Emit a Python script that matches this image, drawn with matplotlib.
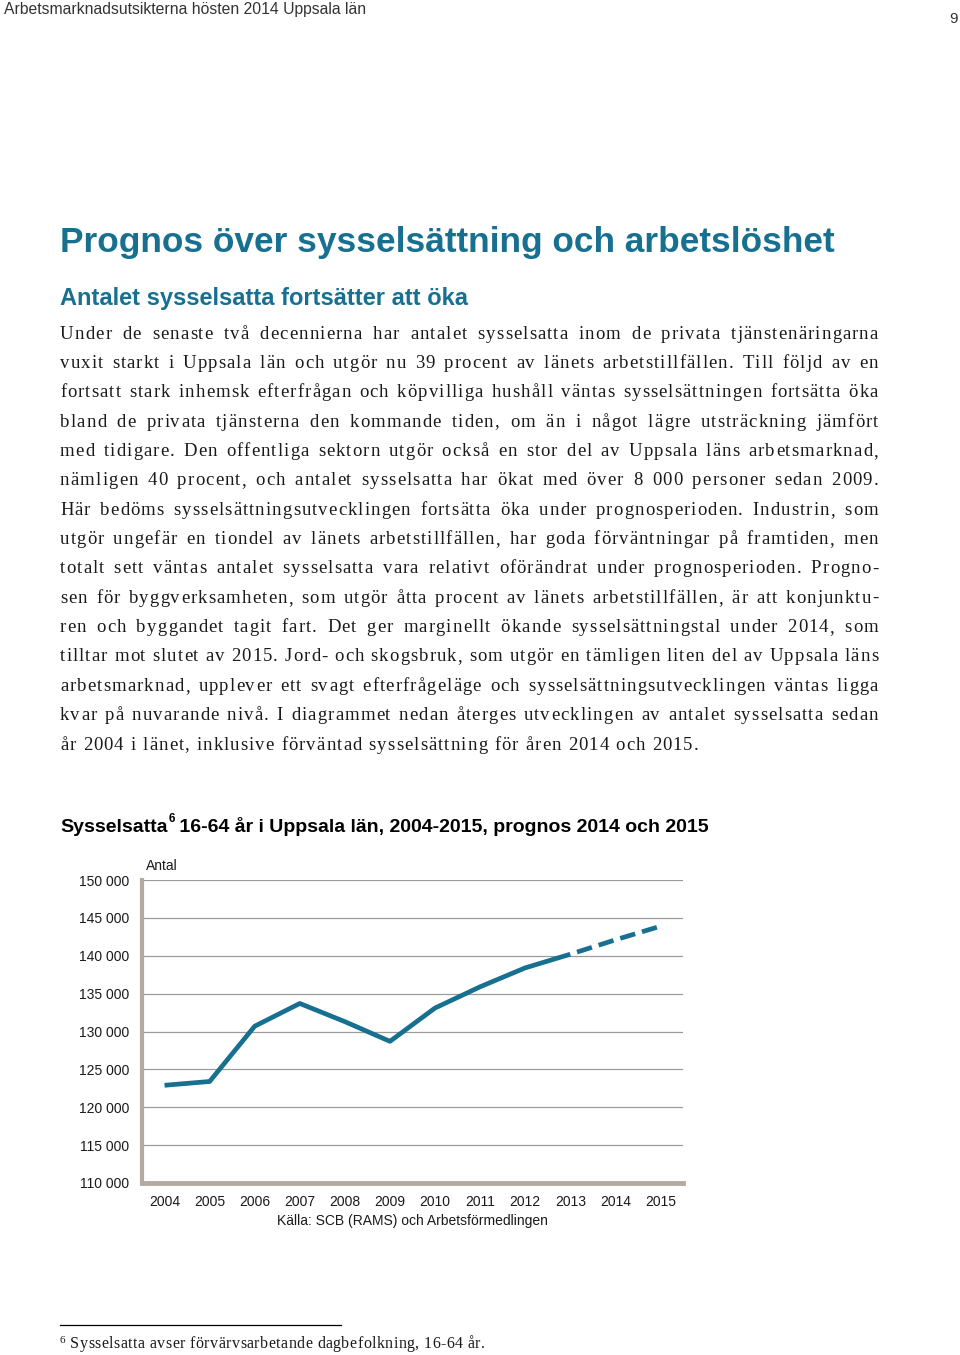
import matplotlib
matplotlib.use('Agg')
import matplotlib.pyplot as plt
from matplotlib.font_manager import FontProperties

W, H = 960, 1355
teal = '#17708f'

# chart data
years = ['2004', '2005', '2006', '2007', '2008', '2009',
         '2010', '2011', '2012', '2013', '2014', '2015']
employed = [122900, 123400, 130700, 133700, 131300, 128700,
            133100, 135900, 138400, 140200, 142100, 143900]
last_actual = '2013'   # dashed after this (prognos)
y_ticks = [110000, 115000, 120000, 125000, 130000, 135000, 140000, 145000, 150000]
y_labels = ['110 000', '115 000', '120 000', '125 000', '130 000',
            '135 000', '140 000', '145 000', '150 000']

header = 'Arbetsmarknadsutsikterna hösten 2014 Uppsala län'
page_no = '9'
title = 'Prognos över sysselsättning och arbetslöshet'
subtitle = 'Antalet sysselsatta fortsätter att öka'
chart_title_a = 'Sysselsatta'
chart_title_b = ' 16-64 år i Uppsala län, 2004-2015, prognos 2014 och 2015'
source = 'Källa: SCB (RAMS) och Arbetsförmedlingen'
footnote = 'Sysselsatta avser förvärvsarbetande dagbefolkning, 16-64 år.'

body_lines = [
    'Under de senaste två decennierna har antalet sysselsatta inom de privata tjänstenäringarna',
    'vuxit starkt i Uppsala län och utgör nu 39 procent av länets arbetstillfällen. Till följd av en',
    'fortsatt stark inhemsk efterfrågan och köpvilliga hushåll väntas sysselsättningen fortsätta öka',
    'bland de privata tjänsterna den kommande tiden, om än i något lägre utsträckning jämfört',
    'med tidigare. Den offentliga sektorn utgör också en stor del av Uppsala läns arbetsmarknad,',
    'nämligen 40 procent, och antalet sysselsatta har ökat med över 8 000 personer sedan 2009.',
    'Här bedöms sysselsättningsutvecklingen fortsätta öka under prognosperioden. Industrin, som',
    'utgör ungefär en tiondel av länets arbetstillfällen, har goda förväntningar på framtiden, men',
    'totalt sett väntas antalet sysselsatta vara relativt oförändrat under prognosperioden. Progno-',
    'sen för byggverksamheten, som utgör åtta procent av länets arbetstillfällen, är att konjunktu-',
    'ren och byggandet tagit fart. Det ger marginellt ökande sysselsättningstal under 2014, som',
    'tilltar mot slutet av 2015. Jord- och skogsbruk, som utgör en tämligen liten del av Uppsala läns',
    'arbetsmarknad, upplever ett svagt efterfrågeläge och sysselsättningsutvecklingen väntas ligga',
    'kvar på nuvarande nivå. I diagrammet nedan återges utvecklingen av antalet sysselsatta sedan',
    'år 2004 i länet, inklusive förväntad sysselsättning för åren 2014 och 2015.',
]

fig = plt.figure(figsize=(9.6, 13.55), dpi=100)
renderer = fig.canvas.get_renderer()


def put(x, y, s, **kw):
    # x, y in pixels from top-left
    return fig.text(x / W, 1 - y / H, s, **kw)


def text_w(s, prop):
    w, h, d = renderer.get_text_width_height_descent(s, prop, ismath=False)
    return w


sans = 'Liberation Sans'

# page header
put(4, 14, header, family=sans, fontsize=11.3, color='#333333', va='baseline')
put(958, 23, page_no, family=sans, fontsize=11, color='#333333', va='baseline', ha='right')

# headings
put(60, 252, title, family=sans, fontsize=25.4, fontweight='bold', color=teal, va='baseline')
put(60, 305, subtitle, family=sans, fontsize=17, fontweight='bold', color=teal, va='baseline')


def tracked_line(x0, x1, y, line, prop, track, justify, color='#1a1a1a'):
    space_w = text_w('a a', prop) - text_w('aa', prop)
    widths = [space_w if c == ' ' else text_w(c, prop) for c in line]
    n_sp = max(line.count(' '), 1)
    chars = sum(widths)
    tr = track
    extra = 0
    if justify:
        extra = (x1 - x0 - chars - tr * (len(line) - 1)) / n_sp
        if extra < 0:
            # squeeze letter spacing instead of spaces
            tr = max((x1 - x0 - chars) / (len(line) - 1), 0)
            extra = (x1 - x0 - chars - tr * (len(line) - 1)) / n_sp
    x = x0
    for c, w in zip(line, widths):
        if c != ' ':
            put(x, y, c, fontproperties=prop, color=color, va='baseline')
            x += w + tr
        else:
            x += w + extra + tr


# body text, justified with letter spacing
serif = FontProperties(family='Liberation Serif', size=13.5)
for i, line in enumerate(body_lines):
    y = 338.5 + i * 29.36
    tracked_line(60, 878, y, line, serif, 1.1, i < len(body_lines) - 1)

# chart title with superscript 6
ct = FontProperties(family=sans, size=14, weight='bold')
put(60, 832, chart_title_a, fontproperties=ct, color='black', va='baseline')
xa = 60 + text_w(chart_title_a, ct)
put(xa + 1, 822, '6', family=sans, fontsize=8.5, fontweight='bold', color='black', va='baseline')
put(xa + 6, 832, chart_title_b, fontproperties=ct, color='black', va='baseline')

# chart
ax = fig.add_axes([142 / W, 1 - 1183 / H, (683 - 142) / W, (1183 - 880) / H])
xs = list(range(len(years)))
k = years.index(last_actual)
ax.plot(xs[:k + 1], employed[:k + 1], color=teal, lw=3.4,
        solid_joinstyle='round', solid_capstyle='butt', zorder=3)
ax.plot(xs[k:], employed[k:], color=teal, lw=3.4, ls=(3.3, (3.3, 1.5)),
        dash_capstyle='butt', zorder=3)

ax.set_xlim(-0.5, len(years) - 0.5)
ax.set_ylim(y_ticks[0], y_ticks[-1])
ax.set_yticks(y_ticks)
ax.set_yticklabels(y_labels)
ax.set_xticks(xs)
ax.set_xticklabels(years)
ax.tick_params(length=0, labelsize=10, labelcolor='#1a1a1a')
ax.tick_params(axis='y', pad=9)
ax.tick_params(axis='x', pad=9)
for lab in ax.get_xticklabels() + ax.get_yticklabels():
    lab.set_family(sans)

ax.grid(axis='y', color='#9c9c9c', lw=0.9)
ax.set_axisbelow(True)
for s in ['top', 'right']:
    ax.spines[s].set_visible(False)
ax.spines['left'].set_color('#b3aba1')
ax.spines['left'].set_linewidth(3)
ax.spines['bottom'].set_color('#b3aba1')
ax.spines['bottom'].set_linewidth(3.5)

put(146, 870, 'Antal', family=sans, fontsize=10, color='#1a1a1a', va='baseline')
put(412, 1225, source, family=sans, fontsize=10, color='#1a1a1a', va='baseline', ha='center')

# footnote
fig.add_artist(plt.Line2D([60 / W, 341 / W], [1 - 1325 / H, 1 - 1325 / H],
                          color='black', lw=0.9))
fn = FontProperties(family='Liberation Serif', size=11.5)
put(60, 1343, '6', family='Liberation Serif', fontsize=8, color='#1a1a1a', va='baseline')
tracked_line(70, 487, 1348, footnote, fn, 0.45, False)

fig.savefig('out.png', dpi=100)
